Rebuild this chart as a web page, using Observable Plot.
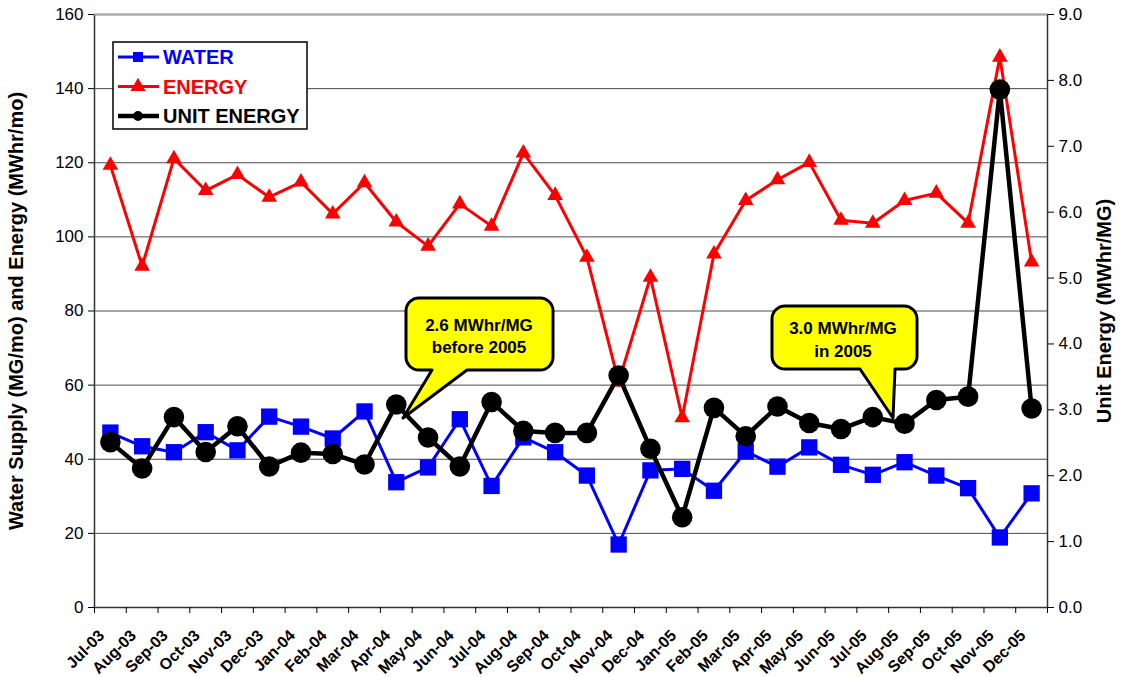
<!DOCTYPE html>
<html><head><meta charset="utf-8">
<script src="https://cdn.jsdelivr.net/npm/d3@7"></script>
<script src="https://cdn.jsdelivr.net/npm/@observablehq/plot@0.6"></script>
<style>
html,body{margin:0;padding:0;background:#fff;}
#chart{width:1122px;height:677px;overflow:hidden;}
</style>
</head><body><div id="chart"></div>
<script>
const months = ["Jul-03","Aug-03","Sep-03","Oct-03","Nov-03","Dec-03","Jan-04","Feb-04","Mar-04","Apr-04","May-04","Jun-04","Jul-04","Aug-04","Sep-04","Oct-04","Nov-04","Dec-04","Jan-05","Feb-05","Mar-05","Apr-05","May-05","Jun-05","Jul-05","Aug-05","Sep-05","Oct-05","Nov-05","Dec-05"];
const water = [47.2,43.5,41.9,47.3,42.4,51.5,48.8,45.6,52.9,33.8,37.8,50.8,32.8,45.9,41.9,35.6,17.0,37.0,37.4,31.5,42.1,38.0,43.2,38.5,35.8,39.2,35.6,32.2,18.9,30.8];
const energy = [119.3,92.1,121.1,112.5,116.8,110.7,114.8,106.2,114.6,104.0,97.5,108.9,102.9,122.6,111.2,94.5,60.8,89.1,51.2,95.4,109.8,115.4,120.1,104.5,103.7,109.8,111.8,103.7,148.5,93.2];
const unitEnergy = [2.51,2.11,2.89,2.36,2.75,2.14,2.35,2.33,2.17,3.08,2.58,2.14,3.12,2.68,2.65,2.65,3.52,2.41,1.37,3.03,2.60,3.05,2.80,2.71,2.89,2.79,3.15,3.20,7.86,3.02];
const leftTicks = [0,20,40,60,80,100,120,140,160];
const rightTicks = [0,1,2,3,4,5,6,7,8,9];
const seriesNames = ["WATER","ENERGY","UNIT ENERGY"];
const seriesColors = ["#0000ff","#ff0000","#000000"];
const seriesSymbols = ["square","triangle","circle"];
const leftTitle = "Water Supply (MG/mo) and Energy (MWhr/mo)";
const rightTitle = "Unit Energy (MWhr/MG)";
const noteBefore = ["2.6 MWhr/MG","before 2005"];
const noteIn = ["3.0 MWhr/MG","in 2005"];

const W = 1122, H = 677, mL = 94, mR = 75, mT = 14, mB = 70;
const yMax = 160, uMax = 9, k = yMax / uMax;
const step = (W - mL - mR) / months.length;
const font = "'Liberation Sans', Arial, Helvetica, sans-serif";
const rows = months.map((m, i) => ({month: m, water: water[i], energy: energy[i], unit: unitEnergy[i] * k}));

const chart = Plot.plot({
  width: W, height: H,
  marginLeft: mL, marginRight: mR, marginTop: mT, marginBottom: mB,
  style: {fontFamily: font, background: "#fff", color: "#000", overflow: "visible"},
  x: {type: "point", domain: months, padding: 0.5, align: 0.5, round: false},
  y: {domain: [0, yMax]},
  marks: [
    Plot.frame({stroke: "#333", strokeWidth: 1.5}),
    Plot.ruleY(leftTicks.filter(v => v > 0 && v < yMax), {stroke: "#4a4a4a", strokeWidth: 1}),
    Plot.ruleY([yMax], {stroke: "#aaa", strokeWidth: 1.5}),
    Plot.axisY(leftTicks, {anchor: "left", tickSize: 6, tickPadding: 5, fontSize: 17, label: null}),
    Plot.axisY(rightTicks.map(v => v * k), {anchor: "right", tickSize: 6, tickPadding: 5, fontSize: 17, label: null, tickFormat: d => (d / k).toFixed(1)}),
    Plot.axisX(months, {tickSize: 6, tickFormat: () => "", dx: -step / 2, label: null}),
    Plot.axisX([months[months.length - 1]], {tickSize: 6, tickFormat: () => "", dx: step / 2, label: null}),
    Plot.text(months, {x: d => d, frameAnchor: "bottom", rotate: -45, textAnchor: "end", lineAnchor: "bottom", dx: -5, dy: 29, fontSize: 16, fontWeight: "bold"}),
    Plot.text([leftTitle], {frameAnchor: "left", rotate: -90, textAnchor: "middle", lineAnchor: "middle", dx: -78, fontSize: 20, fontWeight: "bold"}),
    Plot.text([rightTitle], {frameAnchor: "right", rotate: -90, textAnchor: "middle", lineAnchor: "middle", dx: 57, fontSize: 20, fontWeight: "bold"}),
    Plot.line(rows, {x: "month", y: "water", stroke: seriesColors[0], strokeWidth: 3}),
    Plot.dot(rows, {x: "month", y: "water", symbol: "square", r: 9.2, fill: seriesColors[0]}),
    Plot.line(rows, {x: "month", y: "energy", stroke: seriesColors[1], strokeWidth: 3}),
    Plot.dot(rows, {x: "month", y: "energy", symbol: "triangle", r: 5.8, fill: seriesColors[1]}),
    Plot.line(rows, {x: "month", y: "unit", stroke: seriesColors[2], strokeWidth: 4.5}),
    Plot.dot(rows, {x: "month", y: "unit", symbol: "circle", r: 10.3, fill: seriesColors[2]})
  ]
});
document.getElementById("chart").appendChild(chart);

const svg = d3.select(chart);

// Legend
const lg = svg.append("g");
lg.append("rect").attr("x", 113).attr("y", 42).attr("width", 194).attr("height", 87)
  .attr("fill", "#fff").attr("stroke", "#000").attr("stroke-width", 1.5);
const symSizes = {square: 100, triangle: 100, circle: 75};
seriesNames.forEach((name, i) => {
  const y = 57 + i * 29.5;
  lg.append("line").attr("x1", 118).attr("x2", 159).attr("y1", y).attr("y2", y)
    .attr("stroke", seriesColors[i]).attr("stroke-width", i === 2 ? 4.5 : 3);
  const symType = {square: d3.symbolSquare, triangle: d3.symbolTriangle, circle: d3.symbolCircle}[seriesSymbols[i]];
  lg.append("path").attr("transform", `translate(138,${y})`)
    .attr("d", d3.symbol(symType, symSizes[seriesSymbols[i]])()).attr("fill", seriesColors[i]);
  lg.append("text").attr("x", 163).attr("y", y + 7).attr("fill", seriesColors[i])
    .attr("font-weight", "bold")
    .style("text-anchor", "start").style("font-family", font).style("font-size", "20px").style("font-weight", "bold").text(name);
});

// Callouts
function calloutPath(x0, y0, x1, y1, r, a, c, tx, ty) {
  return `M${x0 + r},${y0} H${x1 - r} A${r},${r} 0 0 1 ${x1},${y0 + r} V${y1 - r} A${r},${r} 0 0 1 ${x1 - r},${y1} H${c} L${tx},${ty} L${a},${y1} H${x0 + r} A${r},${r} 0 0 1 ${x0},${y1 - r} V${y0 + r} A${r},${r} 0 0 1 ${x0 + r},${y0} Z`;
}
function callout(box, lines, cx, base1, lh) {
  const g = svg.append("g");
  g.append("path").attr("d", calloutPath(...box)).attr("fill", "#ffff00")
    .attr("stroke", "#000").attr("stroke-width", 3).attr("stroke-linejoin", "round");
  lines.forEach((t, i) => {
    g.append("text").attr("x", cx).attr("y", base1 + i * lh).attr("font-weight", "bold")
      .style("text-anchor", "middle").style("font-family", font).style("font-size", "17px").style("font-weight", "bold").attr("fill", "#000").text(t);
  });
}
callout([406, 298, 553, 370, 13, 432, 467, 403, 418], noteBefore, 479, 331, 21.5);
callout([772, 306, 917, 369, 13, 860, 895, 893, 418], noteIn, 843, 334, 22.5);
</script>
</body></html>
